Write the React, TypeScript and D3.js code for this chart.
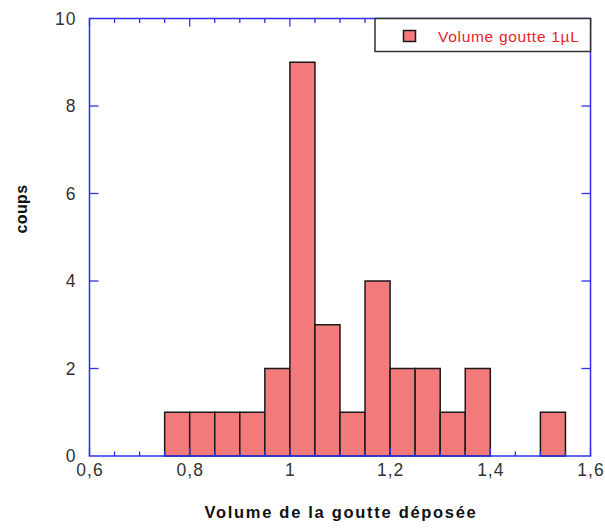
import React from "react";
import * as d3 from "d3";

const binStarts = [0.75, 0.8, 0.85, 0.9, 0.95, 1.0, 1.05, 1.1, 1.15, 1.2, 1.25, 1.3, 1.35, 1.4, 1.45, 1.5];
const counts = [1, 1, 1, 1, 2, 9, 3, 1, 4, 2, 2, 1, 2, 0, 0, 1];
const binWidth = 0.05;
const xTickLabels = [0.6, 0.8, 1.0, 1.2, 1.4, 1.6];
const yTickLabels = [0, 2, 4, 6, 8, 10];
const seriesName = "Volume goutte 1µL";
const xTitle = "Volume de la goutte déposée";
const yTitle = "coups";

const W = 605, H = 529;
const L = 89.5, R = 590.5, T = 18.5, B = 456;

export default function App() {
  const x = d3.scaleLinear().domain([0.6, 1.6]).range([L, R]);
  const y = d3.scaleLinear().domain([0, 10]).range([B, T]);
  const minorX = d3.range(0, 21).map((i) => 0.6 + i * 0.05).filter((v) => Math.abs(Math.round(v * 5) - v * 5) > 1e-6);
  const blue = "#2f2ff0";
  const barFill = "#f27a7a";
  const font = "'Liberation Sans', Arial, Helvetica, sans-serif";
  const fmt = (v: number) => (Math.abs(v - 1) < 1e-9 ? "1" : d3.format(".1f")(v).replace(".", ","));
  return (
    <svg width={W} height={H} style={{ position: "absolute", left: 0, top: 0, background: "#fff" }} fontFamily={font}>
      {binStarts.map((s, i) =>
        counts[i] > 0 ? (
          <rect
            key={i}
            x={x(s)}
            y={y(counts[i])}
            width={x(s + binWidth) - x(s)}
            height={y(0) - y(counts[i])}
            fill={barFill}
            stroke="#1a1a1a"
            strokeWidth={1.5}
          />
        ) : null
      )}
      {/* frame */}
      <rect x={L} y={T} width={R - L} height={B - T} fill="none" stroke={blue} strokeWidth={1.5} />
      {/* x ticks bottom & top */}
      {minorX.map((v, i) => (
        <g key={"mx" + i}>
          <line x1={x(v)} x2={x(v)} y1={B} y2={B - 4.5} stroke={blue} strokeWidth={1.3} />
          <line x1={x(v)} x2={x(v)} y1={T} y2={T + 4.5} stroke={blue} strokeWidth={1.3} />
        </g>
      ))}
      {xTickLabels.map((v, i) => (
        <g key={"Mx" + i}>
          <line x1={x(v)} x2={x(v)} y1={B} y2={B - 8} stroke={blue} strokeWidth={1.3} />
          <line x1={x(v)} x2={x(v)} y1={T} y2={T + 8} stroke={blue} strokeWidth={1.3} />
          <text x={x(v) + 0.5} y={475.5} textAnchor="middle" fontSize={17.5} letterSpacing={1} fill="#333">
            {fmt(v)}
          </text>
        </g>
      ))}
      {yTickLabels.map((v, i) => (
        <g key={"My" + i}>
          {v > 0 && v < 10 ? (
            <>
              <line x1={L} x2={L + 9} y1={y(v)} y2={y(v)} stroke={blue} strokeWidth={1.3} />
              <line x1={R} x2={R - 9} y1={y(v)} y2={y(v)} stroke={blue} strokeWidth={1.3} />
            </>
          ) : null}
          <text x={76.5} y={y(v) + 6} textAnchor="end" fontSize={17.5} letterSpacing={1} fill="#333">
            {String(v)}
          </text>
        </g>
      ))}
      {/* legend */}
      <rect x={375} y={18.5} width={215.5} height={33} fill="#fff" stroke="#333" strokeWidth={1.5} />
      <rect x={403.5} y={30.5} width={12} height={11} fill={barFill} stroke="#1a1a1a" strokeWidth={1.5} />
      <text x={438} y={42} fontSize={15.5} letterSpacing={0.7} fill="#e8232a">
        {seriesName}
      </text>
      {/* titles */}
      <text x={341} y={517.5} textAnchor="middle" fontSize={16.5} fontWeight="bold" letterSpacing={1.7} fill="#111">
        {xTitle}
      </text>
      <text
        transform={`translate(27,209) rotate(-90)`}
        textAnchor="middle"
        fontSize={16}
        fontWeight="bold"
        letterSpacing={0.4}
        fill="#111"
      >
        {yTitle}
      </text>
    </svg>
  );
}
